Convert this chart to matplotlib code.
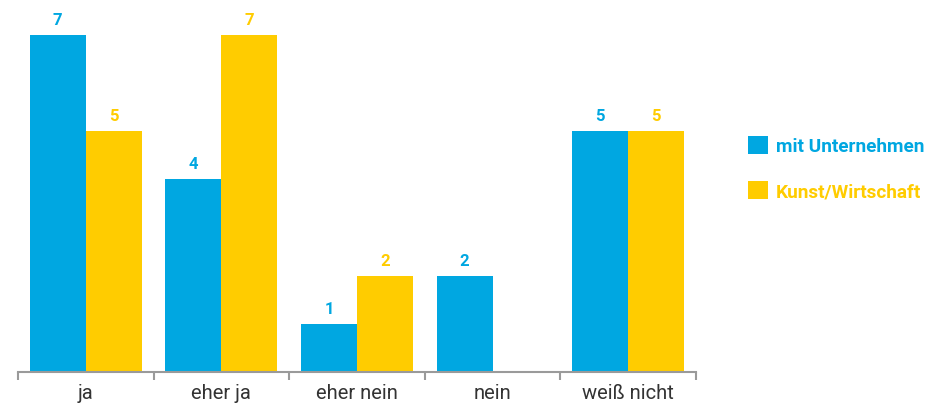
import matplotlib
matplotlib.use('Agg')
import matplotlib.pyplot as plt
import numpy as np

categories = ['ja', 'eher ja', 'eher nein', 'nein', 'weiß nicht']
mit_unternehmen = [7, 4, 1, 2, 5]
kunst_wirtschaft = [5, 7, 2, 0, 5]
series_names = ['mit Unternehmen', 'Kunst/Wirtschaft']

BLUE = '#00A7E1'
YELLOW = '#FFCC00'
GRAY = '#9a9a9a'

plt.rcParams['font.family'] = ['Roboto', 'DejaVu Sans']

fig = plt.figure(figsize=(9.27, 4.06), dpi=100)
ax = fig.add_axes([18 / 927, 33 / 406, 678 / 927, 361 / 406])

x = np.arange(len(categories))
w = 0.413
groups = [(mit_unternehmen, BLUE, -w / 2), (kunst_wirtschaft, YELLOW, w / 2)]
for (vals, color, off), name in zip(groups, series_names):
    bars = ax.bar(x + off, vals, w, color=color, label=name)
    for bar, v in zip(bars, vals):
        if v == 0:
            continue
        ax.text(bar.get_x() + bar.get_width() / 2, v + 0.17, str(v),
                ha='center', va='bottom', fontsize=12, fontweight='bold', color=color)

ax.set_xlim(-0.5, len(categories) - 0.5)
ax.set_ylim(0, 7.5)

for side in ['top', 'right', 'left']:
    ax.spines[side].set_visible(False)
ax.spines['bottom'].set_color(GRAY)
ax.spines['bottom'].set_linewidth(1.5)
ax.set_yticks([])

# boundary ticks between categories, labels centred on the groups
ax.set_xticks(np.arange(-0.5, len(categories), 1.0))
ax.set_xticklabels([])
ax.tick_params(axis='x', which='major', length=6, width=1.5, color=GRAY)
ax.set_xticks(x, minor=True)
ax.set_xticklabels(categories, minor=True, fontsize=14.5, color='#333333')
ax.tick_params(axis='x', which='minor', length=0, pad=8)

ax.legend(loc='center left', bbox_to_anchor=(1.052, 0.565), frameon=False,
          handlelength=1.05, handleheight=1.05, handletextpad=0.4,
          labelspacing=1.35, labelcolor=[BLUE, YELLOW],
          prop={'weight': 'bold', 'size': 13.7})

fig.savefig('out.png', dpi=100, facecolor='white')
